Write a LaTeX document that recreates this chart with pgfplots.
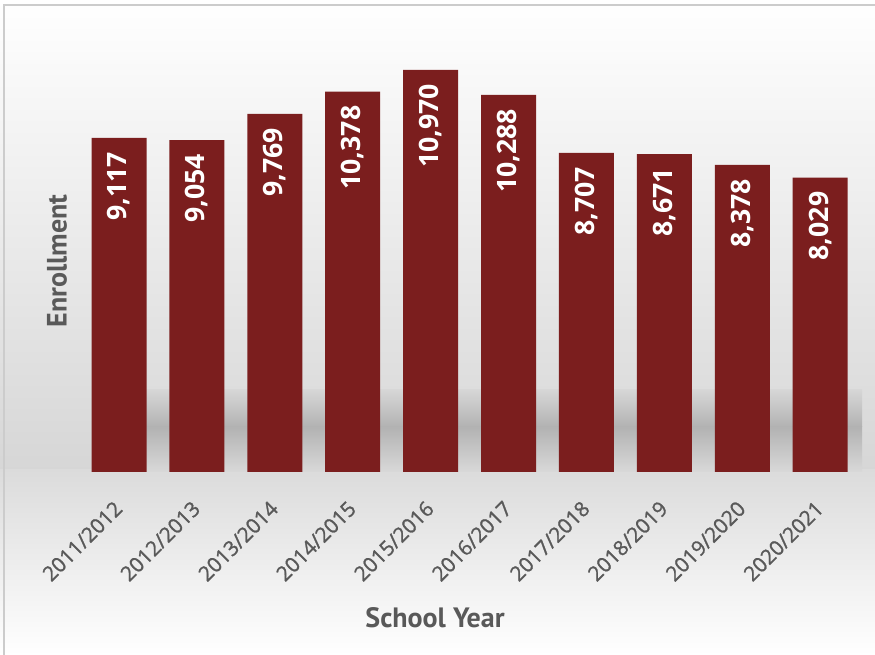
\documentclass[border=0pt]{standalone}
\usepackage{pgfplots}
\pgfplotsset{compat=1.18}
\usepackage{fontspec}
\setmainfont{Open Sans}
\newfontfamily\ptsans{PT Sans}
\newfontfamily\tickfont[FakeBold=1.2]{Open Sans}
\definecolor{barred}{HTML}{7B1E1E}
\definecolor{labgray}{HTML}{595959}
\begin{document}
\begin{tikzpicture}
\begin{scope}[x=0.75pt,y=0.75pt]
\useasboundingbox (0,0) rectangle (875,655);
\shade[top color=white, bottom color=black!16] (0,655) rectangle (875,185);
\shade[top color=black!14, bottom color=white] (0,185) rectangle (875,0);
\shade[top color=black!16, bottom color=black!30] (138,265) rectangle (862,228);
\shade[top color=black!30, bottom color=black!15] (138,228) rectangle (862,183);
\draw[black!20, line width=1.5] (4,0) -- (4,650) -- (875,650);
\end{scope}
\begin{axis}[at={(60.04pt,137.25pt)}, anchor=south west, scale only axis,
  width=584.3pt, height=329.85pt,
  xmin=-0.5, xmax=9.5, ymin=0, ymax=12000,
  axis line style={draw=none}, tick style={draw=none},
  ytick=\empty,
  xtick={0,...,9},
  xticklabels={2011/2012,2012/2013,2013/2014,2014/2015,2015/2016,2016/2017,2017/2018,2018/2019,2019/2020,2020/2021},
  xticklabel style={font=\tickfont\fontsize{15.5}{15.5}\selectfont, text=labgray, xshift=2pt, yshift=-18pt, rotate=45, anchor=east},
  ybar, bar width=41.25pt,
  nodes near coords={\pgfmathprintnumber[fixed, precision=0, 1000 sep={,}, assume math mode=true]{\pgfplotspointmeta}},
  every node near coord/.append style={font=\bfseries\fontsize{20}{20}\selectfont, text=white, yshift=-7pt, rotate=90, anchor=east},
  xlabel={School Year}, ylabel={Enrollment},
  every axis x label/.style={at={(axis description cs:0.4556,-0.332)}, anchor=center, font=\ptsans\bfseries\fontsize{21}{21}\selectfont, text=labgray},
  every axis y label/.style={at={(axis description cs:-0.0296,0.48)}, rotate=90, anchor=center, font=\ptsans\bfseries\fontsize{21}{21}\selectfont, text=labgray},
]
\addplot[fill=barred, draw=none] coordinates {(0,9117) (1,9054) (2,9769) (3,10378) (4,10970) (5,10288) (6,8707) (7,8671) (8,8378) (9,8029)};
\end{axis}
\end{tikzpicture}
\end{document}
